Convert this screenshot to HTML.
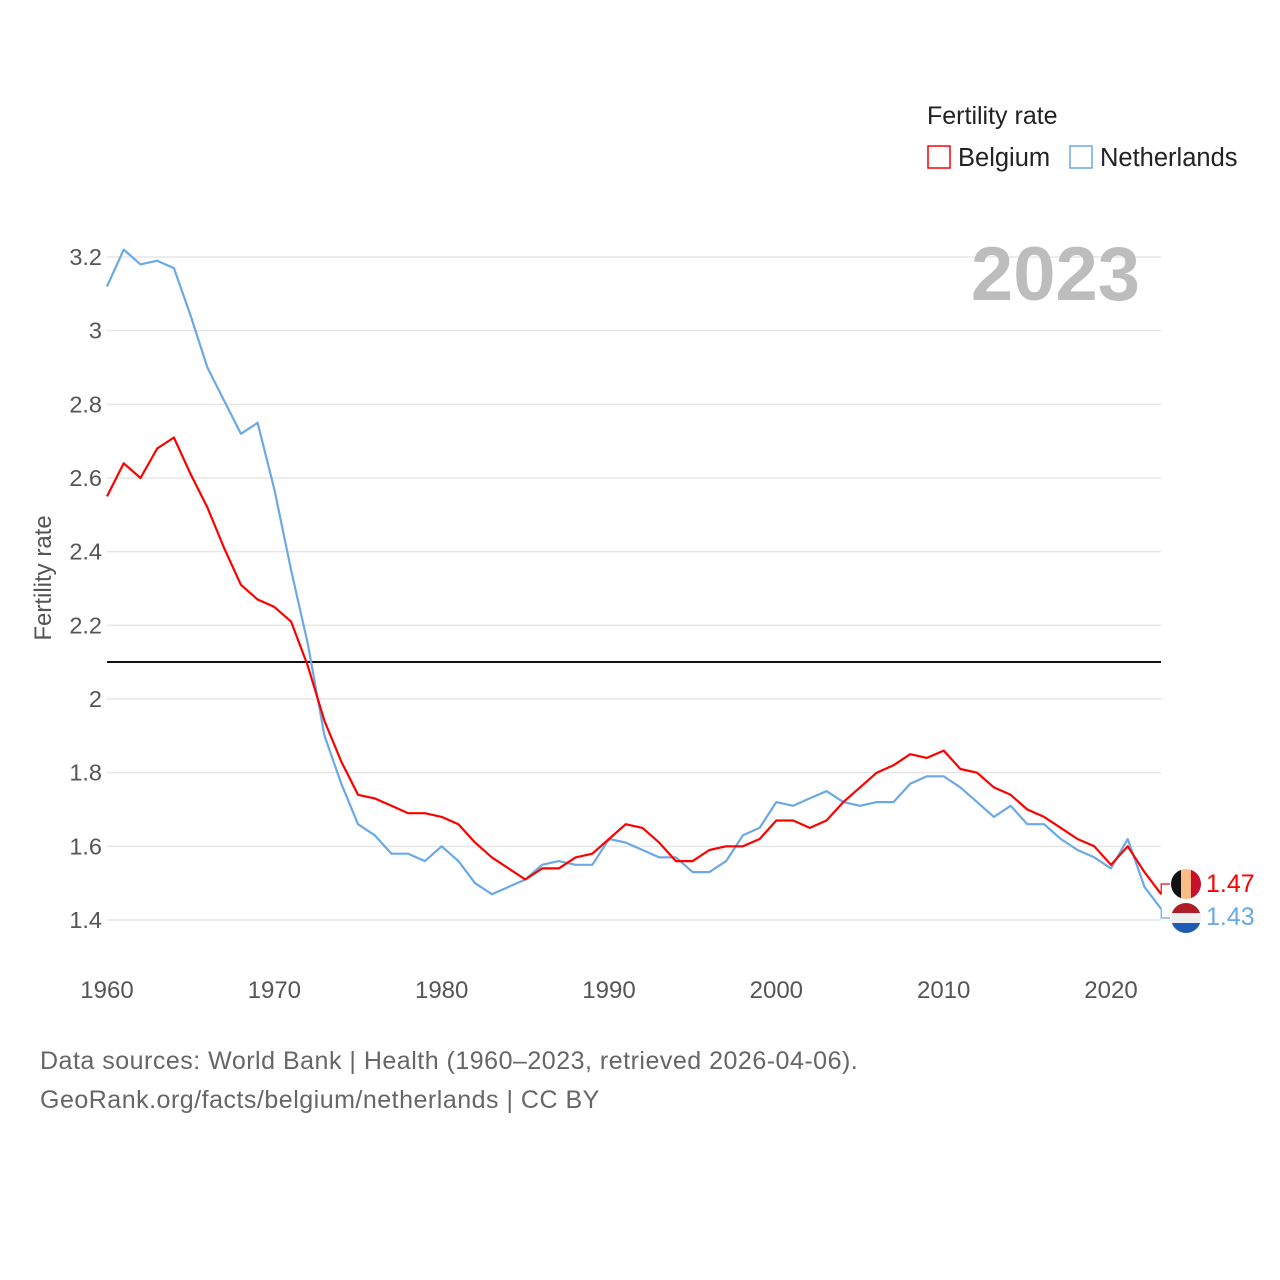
<!DOCTYPE html>
<html><head><meta charset="utf-8"><style>
body{margin:0;background:#fff;}
svg{display:block;font-family:"Liberation Sans",sans-serif;}
</style></head><body>
<svg id="chart" width="1280" height="1280" viewBox="0 0 1280 1280">
<g id="grid"></g>
<g id="yt"></g>
<g id="xt"></g>
<text x="51" y="578" transform="rotate(-90 51 578)" text-anchor="middle" font-size="24" fill="#555">Fertility rate</text>
<text x="1140" y="300" text-anchor="end" font-size="76" font-weight="bold" fill="#bdbdbd">2023</text>
<g>
<text x="927" y="124" font-size="25" fill="#222">Fertility rate</text>
<rect x="928" y="146" width="22" height="22" fill="none" stroke="#f00" stroke-width="1.5"/>
<text x="958" y="166" font-size="25.5" fill="#222">Belgium</text>
<rect x="1070" y="146" width="22" height="22" fill="none" stroke="#6aa9e6" stroke-width="1.5"/>
<text x="1100" y="166" font-size="25.5" fill="#222">Netherlands</text>
</g>
<line x1="107" x2="1161" y1="662" y2="662" stroke="#111" stroke-width="2"/>
<g id="series"></g>
<g>
<defs><clipPath id="c1"><circle cx="1186" cy="884" r="15"/></clipPath><clipPath id="c2"><circle cx="1186" cy="918" r="15"/></clipPath></defs>
<g clip-path="url(#c1)"><rect x="1171" y="869" width="10" height="30" fill="#111"/><rect x="1181" y="869" width="10" height="30" fill="#fdbb88"/><rect x="1191" y="869" width="10" height="30" fill="#c8102e"/></g>
<g clip-path="url(#c2)"><rect x="1171" y="903" width="30" height="10" fill="#ae1c28"/><rect x="1171" y="913" width="30" height="10" fill="#eee"/><rect x="1171" y="923" width="30" height="10" fill="#1e5cb3"/></g>
<text x="1206" y="892" font-size="25" fill="#f00">1.47</text>
<text x="1206" y="925" font-size="25" fill="#6aa9e6">1.43</text>
</g>
<text x="40" y="1069" font-size="25" letter-spacing="0.5" fill="#666">Data sources: World Bank | Health (1960–2023, retrieved 2026-04-06).</text>
<text x="40" y="1108" font-size="25" letter-spacing="0.5" fill="#666">GeoRank.org/facts/belgium/netherlands | CC BY</text>
</svg>
<script>
const years=[];for(let y=1960;y<=2023;y++)years.push(y);
const belgium=[2.55,2.64,2.6,2.68,2.71,2.61,2.52,2.41,2.31,2.27,2.25,2.21,2.09,1.94,1.83,1.74,1.73,1.71,1.69,1.69,1.68,1.66,1.61,1.57,1.54,1.51,1.54,1.54,1.57,1.58,1.62,1.66,1.65,1.61,1.56,1.56,1.59,1.6,1.6,1.62,1.67,1.67,1.65,1.67,1.72,1.76,1.8,1.82,1.85,1.84,1.86,1.81,1.8,1.76,1.74,1.7,1.68,1.65,1.62,1.6,1.55,1.6,1.53,1.47];
const netherlands=[3.12,3.22,3.18,3.19,3.17,3.04,2.9,2.81,2.72,2.75,2.57,2.35,2.15,1.9,1.77,1.66,1.63,1.58,1.58,1.56,1.6,1.56,1.5,1.47,1.49,1.51,1.55,1.56,1.55,1.55,1.62,1.61,1.59,1.57,1.57,1.53,1.53,1.56,1.63,1.65,1.72,1.71,1.73,1.75,1.72,1.71,1.72,1.72,1.77,1.79,1.79,1.76,1.72,1.68,1.71,1.66,1.66,1.62,1.59,1.57,1.54,1.62,1.49,1.43];
const yTicks=[1.4,1.6,1.8,2,2.2,2.4,2.6,2.8,3,3.2];
const xTicks=[1960,1970,1980,1990,2000,2010,2020];
const NS="http://www.w3.org/2000/svg";
const X=v=>107+(v-1960)*(1111-107)/60;
const Y=v=>920-(v-1.4)*(920-257)/1.8;
function mk(tag,attrs,parent){const e=document.createElementNS(NS,tag);for(const k in attrs)e.setAttribute(k,attrs[k]);parent.appendChild(e);return e;}
const grid=document.getElementById('grid'),yt=document.getElementById('yt'),xt=document.getElementById('xt'),ser=document.getElementById('series');
yTicks.forEach(t=>{
 const l=mk('line',{x1:107,x2:1161,y1:Y(t),y2:Y(t),stroke:'#e6e6e6','stroke-width':1.5},grid);
 
 
 const tx=mk('text',{x:102,y:Y(t)+8,'text-anchor':'end','font-size':23.5,fill:'#555'},yt);
 tx.textContent=String(t);
 
 
});
xTicks.forEach(t=>{
 const tx=mk('text',{x:X(t),y:998,'text-anchor':'middle','font-size':24,fill:'#555'},xt);
 tx.textContent=String(t);
 
 
});
function line(vals,color,name){
 const d=vals.map((v,i)=>(i?'L':'M')+X(years[i]).toFixed(1)+' '+Y(v).toFixed(1)).join(' ');
 const p=mk('path',{d:d,fill:'none',stroke:color,'stroke-width':2.2,'stroke-linejoin':'round'},ser);
 
 
}
line(netherlands,'#6aa9e6','netherlands-line');
line(belgium,'#ff0000','belgium-line');
const lb=belgium[belgium.length-1],ln=netherlands[netherlands.length-1],xe=X(2023);
const c1=mk('path',{d:`M${xe} ${Y(lb)} V884 H1170`,fill:'none',stroke:'#f00','stroke-width':1.2},ser);


const c2=mk('path',{d:`M${xe} ${Y(ln)} V918 H1170`,fill:'none',stroke:'#6aa9e6','stroke-width':1.2},ser);


</script>
</body></html>
